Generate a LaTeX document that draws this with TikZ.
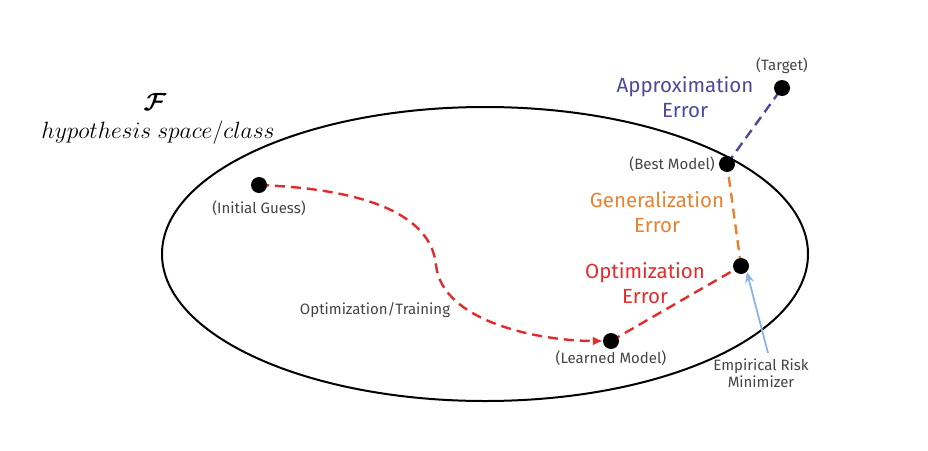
\documentclass[tikz,border=0pt]{standalone}
\usepackage{amsmath}
\usepackage{bm}
\usepackage{graphicx}
\usepackage{fontspec}
\setmainfont{Fira Sans}
\usetikzlibrary{arrows.meta}
\pgfdeclarelayer{bg}
\pgfsetlayers{bg,main}
\definecolor{txtgray}{HTML}{444444}
\definecolor{apxcol}{HTML}{4B4A9A}
\definecolor{gencol}{HTML}{E8822E}
\definecolor{optcol}{HTML}{E32B2B}
\definecolor{ermcol}{HTML}{8AB4E8}
\tikzset{
  dot/.style={circle,fill=black,inner sep=0pt,minimum size=16pt},
  small/.style={text=txtgray,font=\fontsize{15}{17}\selectfont,inner sep=1pt},
  big/.style={font=\fontsize{20.5}{25}\selectfont,align=center,inner sep=1pt},
  dsh/.style={line width=2.4pt,dash pattern=on 10pt off 6pt},
}
\begin{document}
\begin{tikzpicture}[x=1pt,y=-1pt]
\useasboundingbox (0,0) rectangle (928,450);
% labels for F
\node (F) at (155,102) {\fontsize{29}{30}\selectfont$\bm{\mathcal{F}}$};
\node (hyp) at (158,133) {\resizebox{233pt}{!}{\fontsize{24}{26}\selectfont$hypothesis\ space/class$}};
% dots
\node[dot] (init) at (259,185) {};
\node[dot] (learn) at (611,341) {};
\node[dot] (erm) at (741,266) {};
\node[dot] (best) at (727,164) {};
\node[dot] (target) at (782,88) {};
% small labels
\node[small] (linit) at (259,208) {(Initial Guess)};
\node[small] (llearn) at (611,358) {(Learned Model)};
\node[small,anchor=east] (lbest) at (716,164) {(Best Model)};
\node[small] (ltarget) at (782,66) {(Target)};
\node[small] (ltrain) at (375,310) {Optimization/Training};
\node[small,align=center] (lerm) at (761,373) {Empirical Risk\\Minimizer};
% big labels
\node[big,text=apxcol] (lapx) at (685,97) {Approximation\\Error};
\node[big,text=gencol] (lgen) at (657,212) {Generalization\\Error};
\node[big,text=optcol] (lopt) at (645,283) {Optimization\\Error};
% connectors
\begin{pgfonlayer}{bg}
\draw[line width=2pt] (485,254) ellipse [x radius=323, y radius=147];
\coordinate (mid) at (436,265);
\draw[dsh,optcol,-{Latex[length=10pt,width=9pt]}] (init.center) .. controls (340,188) and (430,205) .. (mid)
  .. controls (442,322) and (540,341) .. (learn.west);
\draw[dsh,optcol] (learn.center) -- (erm.center);
\draw[dsh,gencol] (erm.center) -- (best.center);
\draw[dsh,apxcol] (best.center) -- (target.center);
\end{pgfonlayer}
\coordinate (ermtail) at (768,353);
\draw[line width=1.8pt,ermcol,-{Stealth[length=11pt,width=9pt]}] (ermtail) -- (erm.south east);
\end{tikzpicture}
\end{document}
